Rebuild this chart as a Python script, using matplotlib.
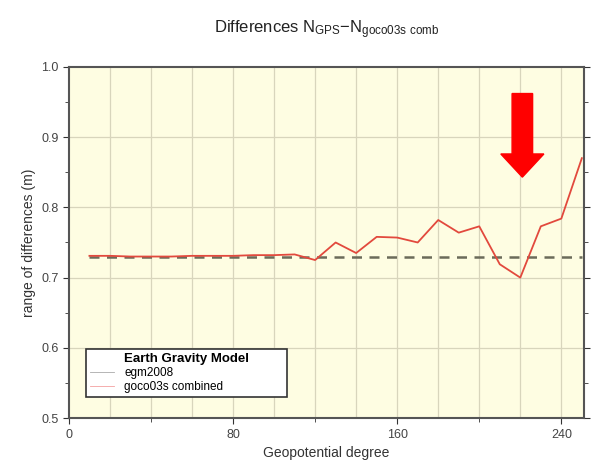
import matplotlib.pyplot as plt
from matplotlib.lines import Line2D

plt.rcParams['font.family'] = ['Liberation Sans', 'DejaVu Sans']

degree = [10, 20, 30, 40, 50, 60, 70, 80, 90, 100, 110, 120, 130,
          140, 150, 160, 170, 180, 190, 200, 210, 220, 230, 240, 250]
goco = [0.731, 0.731, 0.730, 0.730, 0.730, 0.731, 0.731, 0.731, 0.732,
        0.732, 0.733, 0.725, 0.750, 0.735, 0.758, 0.757, 0.750, 0.782,
        0.764, 0.773, 0.719, 0.700, 0.773, 0.784, 0.870]
egm = [0.729] * len(degree)

fig = plt.figure(figsize=(5.94, 4.61), dpi=100)
ax = fig.add_axes([0.116, 0.093, 0.867, 0.762])
ax.set_facecolor('#fefde2')

ax.plot(degree, egm, color='#6b6b5a', linewidth=1.8, linestyle=(0, (4, 3)), zorder=3)
ax.plot(degree, goco, color='#e2493d', linewidth=1.3, zorder=4)

ax.set_xlim(0, 251)
ax.set_ylim(0.5, 1.0)
ax.set_xticks([0, 80, 160, 240])
ax.set_xticks(range(0, 251, 40), minor=True)
ax.set_yticks([0.5, 0.6, 0.7, 0.8, 0.9, 1.0])
ax.set_yticks([0.55, 0.65, 0.75, 0.85, 0.95], minor=True)
ax.set_yticklabels(['0.5', '0.6', '0.7', '0.8', '0.9', '1.0'])

for x in range(20, 251, 20):
    ax.axvline(x, color='#d8d5bc', linewidth=0.9, zorder=1)
for y in [0.6, 0.7, 0.8, 0.9]:
    ax.axhline(y, color='#d8d5bc', linewidth=0.9, zorder=1)

ax.tick_params(which='both', labelsize=9, colors='#333333', direction='out',
               right=True, labelcolor='#444444')
ax.tick_params(which='major', length=4)
ax.tick_params(which='minor', length=3)
for s in ax.spines.values():
    s.set_color('#555555')
    s.set_linewidth(1.5)

ax.set_xlabel('Geopotential degree', fontsize=10, color='#333333')
ax.set_ylabel('range of differences (m)', fontsize=10, color='#333333')
fig.text(0.55, 0.935,
         r'Differences N$\mathregular{_{GPS}}$$\mathregular{-}$N$\mathregular{_{goco03s\ comb}}$',
         ha='center', va='center', fontsize=12, color='#222222')

# red arrow
ax.arrow(221, 0.962, 0, -0.119, width=10, head_width=21, head_length=0.033,
         length_includes_head=True, color='#ff0000', zorder=6)

handles = [Line2D([], [], color='#aaaaaa', linewidth=0.6),
           Line2D([], [], color='#f4a0a0', linewidth=0.6)]
leg = ax.legend(handles, ['egm2008', 'goco03s combined'], title='Earth Gravity Model',
                loc='lower left', bbox_to_anchor=(0.033, 0.06, 0.39, 0.14), mode='expand',
                fontsize=8.5, title_fontproperties={'weight': 'bold', 'size': 9.5},
                frameon=True, fancybox=False, framealpha=1,
                handlelength=2.0, borderpad=0.35, labelspacing=0.15,
                handletextpad=0.9, borderaxespad=0)
leg.get_frame().set_edgecolor('#333333')
leg.get_frame().set_linewidth(1.2)
leg._legend_box.align = 'center'
leg.set_zorder(7)

fig.savefig('out.png', dpi=100)
